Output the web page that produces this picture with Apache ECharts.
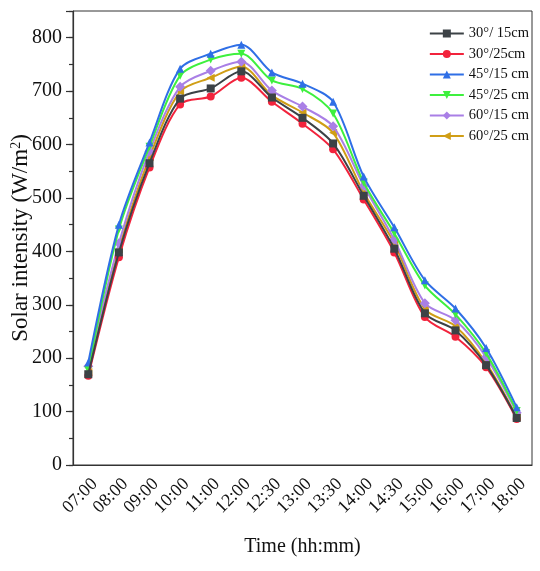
<!DOCTYPE html>
<html>
<head>
<meta charset="utf-8">
<script src="https://cdn.jsdelivr.net/npm/echarts@6/dist/echarts.min.js"></script>
<style>html,body{margin:0;padding:0;background:#fff;}#c{width:540px;height:571px;}</style>
</head>
<body>
<div id="c"></div>
<script>
const categories = ['07:00','08:00','09:00','10:00','11:00','12:00','12:30','13:00','13:30','14:00','14:30','15:00','16:00','17:00','18:00'];
const s30_15 = [170, 398, 565, 686, 705, 737, 688, 650, 602, 504, 405, 284, 252, 187, 88];
const s30_25 = [167, 389, 557, 675, 690, 725, 680, 639, 591, 497, 398, 277, 240, 183, 86];
const s45_15 = [192, 450, 604, 742, 770, 787, 735, 714, 680, 540, 445, 346, 293, 219, 108];
const s45_25 = [178, 441, 596, 729, 759, 770, 720, 704, 658, 529, 434, 336, 282, 209, 101];
const s60_15 = [185, 415, 587, 708, 738, 755, 701, 671, 634, 523, 422, 303, 271, 202, 98];
const s60_25 = [174, 404, 576, 699, 725, 746, 692, 660, 622, 510, 415, 292, 260, 191, 90];
const seriesNames = ['30°/ 15cm', '30°/25cm', '45°/15 cm', '45°/25 cm', '60°/15 cm', '60°/25 cm'];
const yTicks = [0, 100, 200, 300, 400, 500, 600, 700, 800];

const colors = ['#3c4246', '#f2233c', '#2f6fe6', '#3ef03e', '#a97fe6', '#d09e16'];
const symbols = ['rect', 'circle', 'triangle', 'triangle', 'diamond', 'triangle'];
const rotates = [0, 0, 0, 180, 0, 90];
const datas = [s30_15, s30_25, s45_15, s45_25, s60_15, s60_25];
const font = 'Liberation Serif';

const chart = echarts.init(document.getElementById('c'));
chart.setOption({
  animation: false,
  backgroundColor: '#fff',
  grid: { left: 73, right: 8, top: 11, bottom: 106, show: true, borderColor: '#333', borderWidth: 1,
    backgroundColor: 'transparent', containLabel: false, outerBoundsMode: 'none' },
  legend: {
    orient: 'vertical', right: 6, top: 21,
    itemWidth: 34, itemHeight: 10, itemGap: 5.5,
    textStyle: { fontFamily: font, fontSize: 14.5, color: '#111' },
    data: seriesNames
  },
  xAxis: [{
    type: 'category', data: categories, boundaryGap: true,
    name: 'Time (hh:mm)', nameLocation: 'middle', nameGap: 72, nameMoveOverlap: false,
    nameTextStyle: { fontFamily: font, fontSize: 20, color: '#111' },
    axisLine: { lineStyle: { color: '#333', width: 1.2 } },
    axisTick: { alignWithLabel: true, length: 7, lineStyle: { color: '#333', width: 1.2 } },
    axisLabel: { rotate: 45, interval: 0, margin: 10, verticalAlign: 'top', fontFamily: font, fontSize: 18, color: '#111' }
  }, {
    type: 'category', data: categories, boundaryGap: true, position: 'bottom',
    axisLine: { show: false },
    axisTick: { length: 4, lineStyle: { color: '#333', width: 1.2 } },
    axisLabel: { show: false }
  }],
  yAxis: [{
    type: 'value', min: 0, max: 850, interval: 100,
    name: '{a|Solar intensity (W/m}{s|2}{a|)}', nameLocation: 'middle', nameGap: 40, nameMoveOverlap: false,
    nameTextStyle: { rich: {
      a: { fontFamily: font, fontSize: 23, color: '#111' },
      s: { fontFamily: font, fontSize: 14, color: '#111', verticalAlign: 'top', padding: [0, 0, 10, 0] }
    } },
    splitLine: { show: false },
    axisLine: { show: true, lineStyle: { color: '#333', width: 1.2 } },
    axisTick: { show: true, length: 7, lineStyle: { color: '#333', width: 1.2 } },
    axisLabel: { margin: 11, fontFamily: font, fontSize: 20, color: '#111',
      formatter: v => yTicks.indexOf(v) >= 0 ? String(v) : '' }
  }, {
    type: 'value', min: 0, max: 850, interval: 50, position: 'left',
    splitLine: { show: false },
    axisLine: { show: false },
    axisTick: { show: true, length: 4, lineStyle: { color: '#333', width: 1.2 } },
    axisLabel: { show: false }
  }],
  series: datas.map((d, i) => ({
    name: seriesNames[i], type: 'line', data: d, smooth: 0.3,
    xAxisIndex: 0, yAxisIndex: 0,
    symbol: symbols[i], symbolSize: i === 4 ? 10 : 8, symbolRotate: rotates[i],
    itemStyle: { color: colors[i] },
    lineStyle: { color: colors[i], width: 2 },
    z: 10 - i
  }))
});
</script>
</body>
</html>
